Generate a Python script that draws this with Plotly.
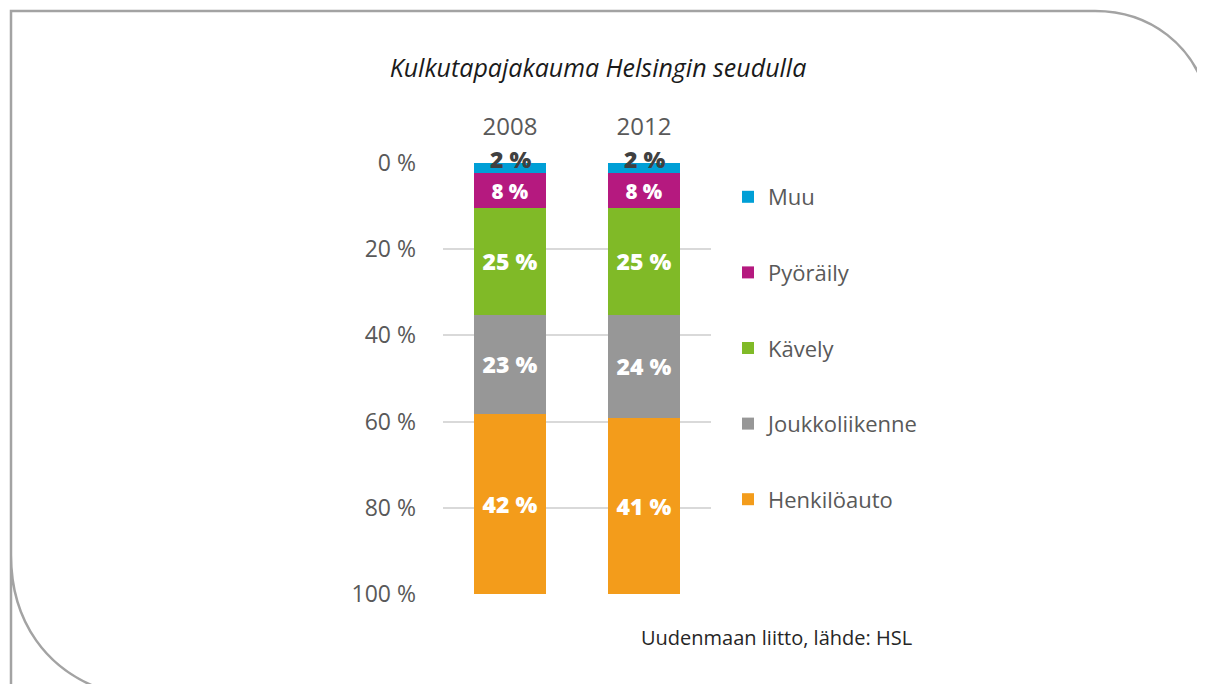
import plotly.graph_objects as go

years = ["2008", "2012"]
series_names = ["Muu", "Pyöräily", "Kävely", "Joukkoliikenne", "Henkilöauto"]
muu = [2.4, 2.4]
pyoraily = [8.0, 8.0]
kavely = [24.8, 24.8]
joukkoliikenne = [23.1, 23.9]
henkiloauto = [41.7, 40.9]
label_muu = ["2 %", "2 %"]
label_pyoraily = ["8 %", "8 %"]
label_kavely = ["25 %", "25 %"]
label_joukko = ["23 %", "24 %"]
label_henkilo = ["42 %", "41 %"]
y_ticks = [0, 20, 40, 60, 80, 100]
y_ticktext = ["0 %", "20 %", "40 %", "60 %", "80 %", "100 %"]

colors = ["#009fd6", "#b5197f", "#80ba27", "#979797", "#f39c1b"]
values = [muu, pyoraily, kavely, joukkoliikenne, henkiloauto]
labels = [label_muu, label_pyoraily, label_kavely, label_joukko, label_henkilo]

OFF = 8  # page body margin
W, H = 1205 - OFF, 684 - OFF
ml, mt = 443 - OFF, 163 - OFF
mr = W - (711 - OFF)
mb = H - (594 - OFF)
pw, ph = W - ml - mr, H - mt - mb

def px(x):
    return (x - OFF - ml) / pw

def py(y):
    return 1 - (y - OFF - mt) / ph

fig = go.Figure()
for i, (name, vals, labs, col) in enumerate(zip(series_names, values, labels, colors)):
    fig.add_trace(go.Bar(
        x=years, y=vals, name=name, marker=dict(color=col, line=dict(width=0)),
        text=labs if i > 0 else None,
        textposition="inside" if i > 0 else "none",
        insidetextanchor="middle",
        textfont=dict(family="Open Sans", size=23, color="white", weight=800),
        width=0.53, legendgroup=name, hoverinfo="skip",
    ))

# Muu labels (dark, overflowing the thin segment)
for idx, (v, lab) in enumerate(zip(muu, label_muu)):
    fig.add_annotation(x=idx, y=v / 2, xref="x", yref="y", text=lab, showarrow=False,
                       yshift=9,
                       font=dict(family="Open Sans", size=23, color="#404040", weight=800))

# source text
fig.add_annotation(x=px(914), y=py(637), xref="paper", yref="paper", xanchor="right",
                   yanchor="middle", showarrow=False, text="Uudenmaan liitto, lähde: HSL",
                   font=dict(family="Open Sans", size=20, color="#262626"))

# frame
def P(x, y):
    return f"{px(x):.5f},{py(y):.5f}"

path = ("M " + P(11, 700) + " L " + P(11, 555) + " C " + P(11, 620) + " " + P(45, 672) + " " + P(110, 692) +
        " M " + P(11, 555) + " L " + P(11, 11) + " L " + P(1095, 11) +
        " C " + P(1150, 11) + " " + P(1195, 45) + " " + P(1208, 100))
fig.add_shape(type="path", path=path, xref="paper", yref="paper",
              line=dict(color="#a3a3a3", width=2.5), layer="above")

fig.update_layout(
    width=W, height=H,
    margin=dict(l=ml, r=mr, t=mt, b=mb, pad=0),
    barmode="stack",
    plot_bgcolor="white", paper_bgcolor="white",
    title=dict(text="<i>Kulkutapajakauma Helsingin seudulla</i>", x=(598 - OFF) / W, xanchor="center",
               y=1 - (68 - OFF) / H, yanchor="middle", yref="container",
               font=dict(family="Open Sans", size=25, color="#1a1a1a")),
    xaxis=dict(type="category", side="top", showgrid=False, showline=False, ticks="",
               tickfont=dict(family="Open Sans", size=24, color="#595959"),
               ticklabelstandoff=22, range=[-0.5, 1.5]),
    yaxis=dict(range=[100, 0], tickvals=y_ticks, ticktext=y_ticktext, showgrid=True,
               gridcolor="#d9d9d9", gridwidth=1.5, zeroline=False, showline=False, ticks="",
               ticklabelstandoff=26,
               tickfont=dict(family="Open Sans", size=23, color="#595959")),
    legend=dict(x=px(728), y=py(176), xanchor="left", yanchor="top",
                font=dict(family="Open Sans", size=22, color="#595959"),
                tracegroupgap=44, traceorder="grouped", itemclick=False,
                bgcolor="rgba(0,0,0,0)"),
    showlegend=True,
)

fig.write_html("out.html")
